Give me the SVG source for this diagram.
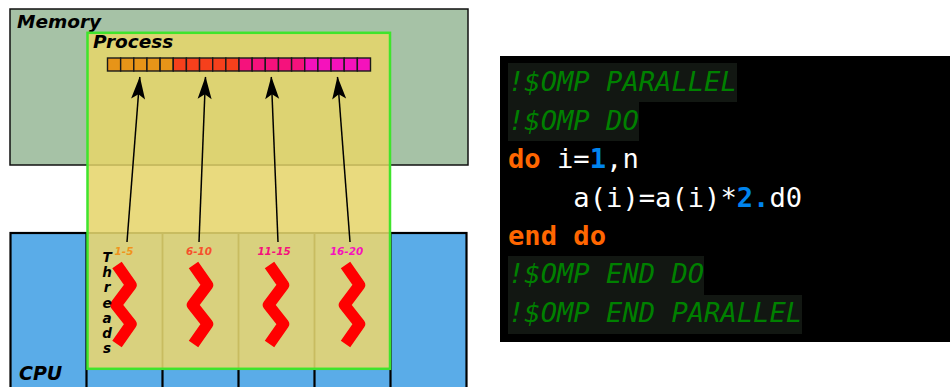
<svg xmlns="http://www.w3.org/2000/svg" xmlns:xlink="http://www.w3.org/1999/xlink" width="950" height="387" viewBox="0 0 950 387">
<style>
.lab{font-family:"DejaVu Sans",sans-serif;font-style:italic;font-weight:bold;fill:#000}
.rng{font-family:"DejaVu Sans",sans-serif;font-style:italic;font-weight:bold;font-size:10.4px;text-anchor:middle}
.code{font-family:"DejaVu Sans Mono",monospace;font-size:27.15px;fill:#fff;white-space:pre}
.cm{fill:#008000;font-style:italic}
.kw{fill:#ff6600;font-weight:bold}
.num{fill:#0084ee;font-weight:bold}
.hl{fill:#121712}
.cell{stroke:#1a1a1a;stroke-width:1.4}
.o{fill:#e79418}.r{fill:#f6401c}.p{fill:#f5127c}.m{fill:#f512bc}
.arr{stroke:#000;stroke-width:1.5;fill:none;marker-end:url(#ah)}
.zig{fill:none;stroke:#ff0000;stroke-width:11.5;stroke-linejoin:round}
</style>
<defs>
<marker id="ah" markerUnits="userSpaceOnUse" markerWidth="14" markerHeight="24" refX="6.5" refY="0.5" orient="auto" viewBox="0 0 13 22" overflow="visible">
<path d="M6.5 0 L13 21 L6.5 16.5 L0 21 Z" fill="#000" transform="rotate(90 6.5 0.5) "/>
</marker>
<polyline id="z" class="zig" points="0,0 14,20 -1,40 14,59 0,79"/>
</defs>
<rect width="950" height="387" fill="#fff"/>
<g id="memory">
<rect x="10" y="9" width="458" height="156" fill="#a6c2a6" stroke="#111" stroke-width="1.5"/>
<text class="lab" x="17" y="28" font-size="18.5">Memory</text>
</g>
<g id="cpu">
<rect x="10.500" y="233" width="456" height="160" fill="#5aace8" stroke="#000" stroke-width="2.2"/>
<path d="M86.500 233V387M162.500 233V387M238.500 233V387M314.500 233V387M390.500 233V387" stroke="#000" stroke-width="2.2" fill="none"/>
<text class="lab" x="19" y="380" font-size="19">CPU</text>
</g>
<g id="process">
<rect x="87.500" y="32.800" width="302.500" height="336" fill="#f3d95e" fill-opacity="0.72"/>
<path d="M87.500 165H390V233H87.500Z" fill="#e9da7e"/>
<path d="M87.500 233H390V369H87.500Z" fill="#d9d17e"/>
<path d="M87.500 165H390M87.500 233H390M162.500 233V369M238.500 233V369M314.500 233V369" stroke="#c8bc60" stroke-width="1.8" fill="none"/>
<rect x="87.500" y="32.800" width="302.500" height="336" fill="none" stroke="#3fe42c" stroke-width="2.5"/>
<text class="lab" x="93" y="48" font-size="18.5">Process</text>
</g>
<g id="array">
<g class="cell">
<rect class="o" x="107.500" y="58" width="13.150" height="13"/><rect class="o" x="120.650" y="58" width="13.150" height="13"/><rect class="o" x="133.800" y="58" width="13.150" height="13"/><rect class="o" x="146.950" y="58" width="13.150" height="13"/><rect class="o" x="160.100" y="58" width="13.150" height="13"/>
<rect class="r" x="173.250" y="58" width="13.150" height="13"/><rect class="r" x="186.400" y="58" width="13.150" height="13"/><rect class="r" x="199.550" y="58" width="13.150" height="13"/><rect class="r" x="212.700" y="58" width="13.150" height="13"/><rect class="r" x="225.850" y="58" width="13.150" height="13"/>
<rect class="p" x="239" y="58" width="13.150" height="13"/><rect class="p" x="252.150" y="58" width="13.150" height="13"/><rect class="p" x="265.300" y="58" width="13.150" height="13"/><rect class="p" x="278.450" y="58" width="13.150" height="13"/><rect class="p" x="291.600" y="58" width="13.150" height="13"/>
<rect class="m" x="304.750" y="58" width="13.150" height="13"/><rect class="m" x="317.900" y="58" width="13.150" height="13"/><rect class="m" x="331.050" y="58" width="13.150" height="13"/><rect class="m" x="344.200" y="58" width="13.150" height="13"/><rect class="m" x="357.350" y="58" width="13.150" height="13"/>
</g>
</g>
<g id="connectors">
<line class="arr" x1="127" y1="242" x2="139.800" y2="77"/>
<line class="arr" x1="199" y1="242" x2="205.500" y2="77"/>
<line class="arr" x1="278" y1="242" x2="271.300" y2="77"/>
<line class="arr" x1="350" y1="242" x2="337.500" y2="77"/>
</g>
<g id="thread1">
<text class="rng" x="124" y="255" fill="#f0941c">1-5</text>
<use xlink:href="#z" href="#z" x="117" y="265"/>
</g>
<g id="thread2">
<text class="rng" x="199" y="255" fill="#f6502c">6-10</text>
<use xlink:href="#z" href="#z" x="193.500" y="265"/>
</g>
<g id="thread3">
<text class="rng" x="274" y="255" fill="#f5127c">11-15</text>
<use xlink:href="#z" href="#z" x="269.500" y="265"/>
</g>
<g id="thread4">
<text class="rng" x="346.500" y="255" fill="#f512bc">16-20</text>
<use xlink:href="#z" href="#z" x="345.500" y="265"/>
</g>
<g id="threads-label" class="lab" font-size="13.500" text-anchor="middle">
<text x="107" y="262">T</text><text x="107" y="277">h</text><text x="107" y="292">r</text><text x="107" y="308">e</text><text x="107" y="323">a</text><text x="107" y="338">d</text><text x="107" y="353">s</text>
</g>
<g id="code">
<rect x="500" y="56" width="450" height="286" fill="#000"/>
<rect class="hl" x="508" y="63" width="229" height="39"/>
<rect class="hl" x="508" y="102" width="131" height="39"/>
<rect class="hl" x="508" y="256" width="196" height="39"/>
<rect class="hl" x="508" y="295" width="294" height="39"/>
<text class="code" x="508" y="91"><tspan class="cm">!$OMP PARALLEL</tspan></text>
<text class="code" x="508" y="130"><tspan class="cm">!$OMP DO</tspan></text>
<text class="code" x="508" y="168"><tspan class="kw">do</tspan> i=<tspan class="num">1</tspan>,n</text>
<text class="code" x="508" y="207">    a(i)=a(i)*<tspan class="num">2.</tspan>d0</text>
<text class="code" x="508" y="245"><tspan class="kw">end do</tspan></text>
<text class="code" x="508" y="283"><tspan class="cm">!$OMP END DO</tspan></text>
<text class="code" x="508" y="322"><tspan class="cm">!$OMP END PARALLEL</tspan></text>
</g>
</svg>
